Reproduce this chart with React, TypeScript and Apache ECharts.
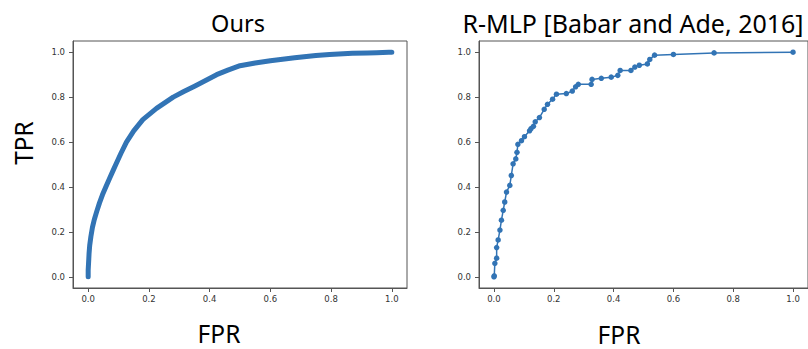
import React, { useEffect, useRef } from "react";
import * as echarts from "echarts";

// Left panel ("Ours") ROC points [FPR, TPR]
const oursFPR = [0, 0.0, 0.002, 0.003, 0.005, 0.009, 0.014, 0.02, 0.028, 0.037, 0.047, 0.058, 0.071, 0.083, 0.091, 0.108, 0.126, 0.15, 0.18, 0.225, 0.28, 0.315, 0.352, 0.423, 0.46, 0.5, 0.55, 0.6, 0.68, 0.75, 0.795, 0.87, 0.92, 0.95, 0.97, 0.99, 1.0];
const oursTPR = [0, 0.03, 0.08, 0.106, 0.14, 0.18, 0.22, 0.254, 0.29, 0.328, 0.365, 0.4, 0.44, 0.476, 0.5, 0.55, 0.6, 0.65, 0.7, 0.75, 0.8, 0.825, 0.85, 0.9, 0.92, 0.94, 0.952, 0.962, 0.975, 0.985, 0.99, 0.995, 0.997, 0.998, 0.999, 1.0, 1.0];

// Right panel (R-MLP) ROC points [FPR, TPR]
const rmlpFPR = [0.0, 0.001, 0.003, 0.009, 0.009, 0.014, 0.02, 0.025, 0.031, 0.036, 0.042, 0.053, 0.058, 0.064, 0.073, 0.077, 0.08, 0.092, 0.102, 0.119, 0.124, 0.132, 0.138, 0.152, 0.168, 0.179, 0.196, 0.209, 0.242, 0.262, 0.273, 0.282, 0.325, 0.328, 0.359, 0.392, 0.414, 0.422, 0.458, 0.471, 0.486, 0.513, 0.521, 0.537, 0.6, 0.736, 1.0];
const rmlpTPR = [0.0, 0.004, 0.06, 0.083, 0.13, 0.164, 0.208, 0.252, 0.296, 0.333, 0.377, 0.407, 0.451, 0.503, 0.525, 0.554, 0.59, 0.606, 0.624, 0.65, 0.66, 0.67, 0.69, 0.709, 0.746, 0.768, 0.791, 0.813, 0.816, 0.827, 0.846, 0.857, 0.857, 0.879, 0.884, 0.889, 0.897, 0.919, 0.919, 0.934, 0.942, 0.948, 0.968, 0.987, 0.99, 0.997, 1.0];

const tickValues = [0, 0.2, 0.4, 0.6, 0.8, 1.0];

const titles = ["Ours", "R-MLP [Babar and Ade, 2016]"];
const axisNames = { x: "FPR", y: "TPR" };

const LINE_COLOR = "#3274b5";
const SPINE = "#555555";

function makeAxis(gridIndex: number, isX: boolean) {
  return {
    type: "value",
    gridIndex,
    min: -0.05,
    max: 1.05,
    splitLine: { show: false },
    axisLine: { show: true, onZero: false, lineStyle: { color: SPINE, width: 1 } },
    axisTick: {
      show: true,
      inside: false,
      length: 4,
      customValues: tickValues,
      lineStyle: { color: SPINE, width: 1 },
    },
    axisLabel: {
      show: true,
      customValues: tickValues,
      formatter: (v: number) => v.toFixed(1),
      color: "#333333",
      fontFamily: "DejaVu Sans",
      fontSize: 8.5,
      margin: isX ? 6 : 8,
    },
  };
}

export default function App() {
  const ref = useRef<HTMLDivElement>(null);
  useEffect(() => {
    document.body.style.margin = "0";
    if (!ref.current) return;
    const chart = echarts.init(ref.current, null, { renderer: "svg" });
    const oursData = oursFPR.map((x, i) => [x, oursTPR[i]]);
    const rmlpData = rmlpFPR.map((x, i) => [x, rmlpTPR[i]]);
    const font = (size: number) => ({ fontFamily: "Noto Sans", fontSize: size, fill: "#000", fontWeight: "normal", textAlign: "center", textVerticalAlign: "middle" });
    chart.setOption({
      animation: false,
      backgroundColor: "#ffffff",
      grid: [
        { left: 73, top: 41, width: 334, height: 247, show: true, borderColor: SPINE, borderWidth: 1, backgroundColor: "transparent" },
        { left: 479, top: 41, width: 333, height: 247, show: true, borderColor: SPINE, borderWidth: 1, backgroundColor: "transparent" },
      ],
      xAxis: [makeAxis(0, true), makeAxis(1, true)],
      yAxis: [makeAxis(0, false), makeAxis(1, false)],
      series: [
        {
          type: "line",
          xAxisIndex: 0,
          yAxisIndex: 0,
          data: oursData,
          showSymbol: false,
          symbol: "none",
          lineStyle: { color: LINE_COLOR, width: 5, cap: "round", join: "round" },
        },
        {
          type: "line",
          xAxisIndex: 1,
          yAxisIndex: 1,
          data: rmlpData,
          symbol: "circle",
          symbolSize: 5.5,
          itemStyle: { color: LINE_COLOR },
          lineStyle: { color: LINE_COLOR, width: 1.5 },
        },
      ],
      graphic: [
        { type: "text", x: 238, y: 23, style: { text: titles[0], ...font(23.5) } },
        { type: "text", x: 633, y: 23, style: { text: titles[1], ...font(25) } },
        { type: "text", x: 23, y: 143, rotation: Math.PI / 2, style: { text: axisNames.y, ...font(24.5) } },
        { type: "text", x: 219, y: 333, style: { text: axisNames.x, ...font(24.5) } },
        { type: "text", x: 619, y: 334, style: { text: axisNames.x, ...font(24.5) } },
      ],
    });
    return () => chart.dispose();
  }, []);
  return <div ref={ref} style={{ position: "fixed", left: 0, top: 0, width: 808, height: 349 }} />;
}
